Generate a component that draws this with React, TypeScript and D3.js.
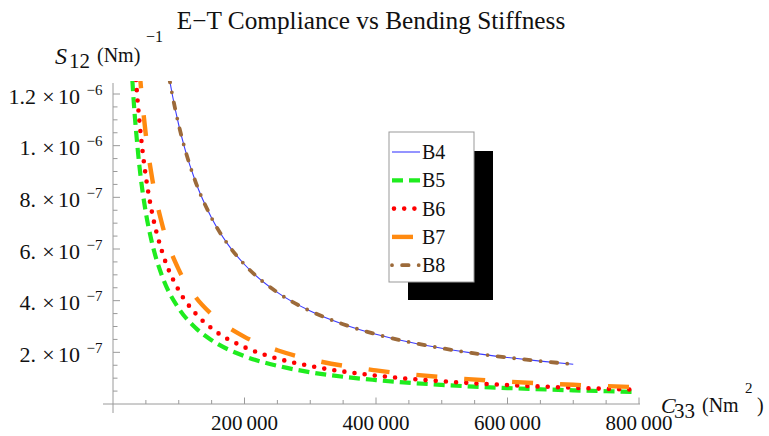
import React from "react";
import * as d3 from "d3";

// ---- data ----
const c33B4 = [85000, 90000, 100000, 110000, 125000, 150000, 175000, 200000, 250000, 300000, 350000, 400000, 450000, 500000, 550000, 600000, 650000, 700000];
const s12B4 = [1.27e-6, 1.2e-6, 1.08e-6, 9.82e-7, 8.64e-7, 7.2e-7, 6.17e-7, 5.4e-7, 4.32e-7, 3.6e-7, 3.09e-7, 2.7e-7, 2.4e-7, 2.16e-7, 1.96e-7, 1.8e-7, 1.66e-7, 1.54e-7];
const c33B8 = [85000, 90000, 100000, 110000, 125000, 150000, 175000, 200000, 250000, 300000, 350000, 400000, 450000, 500000, 550000, 600000, 650000, 700000];
const s12B8 = [1.27e-6, 1.2e-6, 1.08e-6, 9.82e-7, 8.64e-7, 7.2e-7, 6.17e-7, 5.4e-7, 4.32e-7, 3.6e-7, 3.09e-7, 2.7e-7, 2.4e-7, 2.16e-7, 1.96e-7, 1.8e-7, 1.66e-7, 1.54e-7];
const c33Low = [28000, 30000, 33000, 36000, 40000, 45000, 50000, 60000, 75000, 100000, 125000, 150000, 200000, 250000, 300000, 400000, 500000, 600000, 700000, 790000];
const s12B5 = [1.32e-6, 1.23e-6, 1.12e-6, 1.03e-6, 9.25e-7, 8.22e-7, 7.4e-7, 6.17e-7, 4.93e-7, 3.7e-7, 2.96e-7, 2.47e-7, 1.85e-7, 1.48e-7, 1.23e-7, 9.25e-8, 7.4e-8, 6.17e-8, 5.29e-8, 4.68e-8];
const s12B6 = [1.57e-6, 1.47e-6, 1.33e-6, 1.22e-6, 1.1e-6, 9.78e-7, 8.8e-7, 7.33e-7, 5.87e-7, 4.4e-7, 3.52e-7, 2.93e-7, 2.2e-7, 1.76e-7, 1.47e-7, 1.1e-7, 8.8e-8, 7.33e-8, 6.29e-8, 5.57e-8];
const s12B7 = [1.86e-6, 1.73e-6, 1.58e-6, 1.44e-6, 1.3e-6, 1.16e-6, 1.04e-6, 8.67e-7, 6.93e-7, 5.2e-7, 4.16e-7, 3.47e-7, 2.6e-7, 2.08e-7, 1.73e-7, 1.3e-7, 1.04e-7, 8.67e-8, 7.43e-8, 6.58e-8];

const seriesNames = ["B4", "B5", "B6", "B7", "B8"];
const xMajorTicks = [200000, 400000, 600000, 800000];
const xTickLabels = ["200\u2009000", "400\u2009000", "600\u2009000", "800\u2009000"];
const yMajorTicks = [2e-7, 4e-7, 6e-7, 8e-7, 1e-6, 1.2e-6];
const yMantissas = ["2.", "4.", "6.", "8.", "1.", "1.2"];
const yExponents = ["\u22127", "\u22127", "\u22127", "\u22127", "\u22126", "\u22126"];

const styles: Record<string, any> = {
  B4: { stroke: "#3c3cff", width: 1.1, dash: null, cap: "butt" },
  B5: { stroke: "#1fec1f", width: 4.2, dash: "11 6", cap: "butt" },
  B6: { stroke: "#ff0000", width: 4.6, dash: "0 10.2", cap: "round" },
  B7: { stroke: "#ff8a10", width: 4.4, dash: "21 27", cap: "butt" },
  B8: { stroke: "#9c6a3a", width: 3.8, dash: "6.5 10.1 0 10.1", cap: "round" },
};

export default function App() {
  const x = d3.scaleLinear().domain([0, 800000]).range([113, 639]);
  const y = d3.scaleLinear().domain([0, 1.2e-6]).range([404, 94]);
  const line = d3
    .line<[number, number]>()
    .x((d) => x(d[0]))
    .y((d) => y(d[1]))
    .curve(d3.curveMonotoneX);

  const zip = (a: number[], b: number[]) => a.map((v, i) => [v, b[i]] as [number, number]);
  const data: Record<string, [number, number][]> = {
    B4: zip(c33B4, s12B4),
    B5: zip(c33Low, s12B5),
    B6: zip(c33Low, s12B6),
    B7: zip(c33Low, s12B7),
    B8: zip(c33B8, s12B8),
  };
  const drawOrder = ["B5", "B6", "B7", "B4", "B8"];

  const xMinor = d3.range(50000, 800001, 50000).filter((v) => !xMajorTicks.includes(v));
  const yMinor = d3.range(1, 25).map((i) => i * 5e-8).filter((v) => !yMajorTicks.some((m) => Math.abs(m - v) < 1e-12));

  const axisColor = "#9a9a9a";
  const font = "'Liberation Serif', 'Times New Roman', serif";
  const legendY0 = 152;
  const legendStep = 28.3;

  return (
    <svg width={769} height={436} style={{ position: "absolute", left: 0, top: 0, background: "#fff" }} fontFamily={font}>
      <defs>
        <clipPath id="plotclip">
          <rect x={100} y={y(1.25e-6)} width={560} height={340} />
        </clipPath>
      </defs>
      {/* title */}
      <text x={371} y={29} textAnchor="middle" fontSize={25.3} fill="#111">
        E{"\u2212"}T Compliance vs Bending Stiffness
      </text>

      {/* axes */}
      <line x1={103} x2={640} y1={y(0)} y2={y(0)} stroke={axisColor} strokeWidth={1} />
      <line x1={x(0)} x2={x(0)} y1={413} y2={83} stroke={axisColor} strokeWidth={1} />
      {xMajorTicks.map((v) => (
        <line key={"xM" + v} x1={x(v)} x2={x(v)} y1={y(0)} y2={y(0) - 6.5} stroke={axisColor} />
      ))}
      {xMinor.map((v) => (
        <line key={"xm" + v} x1={x(v)} x2={x(v)} y1={y(0)} y2={y(0) - 4} stroke={axisColor} />
      ))}
      {yMajorTicks.map((v) => (
        <line key={"yM" + v} x1={x(0)} x2={x(0) + 7} y1={y(v)} y2={y(v)} stroke={axisColor} />
      ))}
      {yMinor.map((v) => (
        <line key={"ym" + v} x1={x(0)} x2={x(0) + 4.5} y1={y(v)} y2={y(v)} stroke={axisColor} />
      ))}

      {/* x tick labels */}
      {xMajorTicks.map((v, i) => (
        <text key={"xl" + v} x={x(v)} y={430} textAnchor="middle" fontSize={21} fill="#111">
          {xTickLabels[i]}
        </text>
      ))}
      {/* y tick labels */}
      {yMajorTicks.map((v, i) => {
        const ty = y(v);
        return (
          <g key={"yl" + v} fill="#111">
            <text x={36} y={ty + 9.5} textAnchor="end" fontSize={22}>{yMantissas[i]}</text>
            <text x={48.5} y={ty + 9.5} textAnchor="middle" fontSize={22}>{"\u00d7"}</text>
            <text x={58} y={ty + 9.5} fontSize={22}>10</text>
            <text x={86.5} y={ty + 0.5} fontSize={15}>{yExponents[i]}</text>
          </g>
        );
      })}

      {/* axis labels */}
      <g fill="#111">
        <text x={55} y={64} fontSize={24} fontStyle="italic">S</text>
        <text x={69} y={68} fontSize={21}>12</text>
        <text x={97} y={62} fontSize={20}>(Nm)</text>
        <text x={146} y={42} fontSize={16}>{"\u2212"}1</text>

        <text x={661} y={413} fontSize={22} fontStyle="italic">C</text>
        <text x={674} y={418} fontSize={21}>33</text>
        <text x={702} y={412} fontSize={20}>(Nm</text>
        <text x={745} y={393} fontSize={15}>2</text>
        <text x={757} y={412} fontSize={20}>)</text>
      </g>

      {/* curves */}
      <g clipPath="url(#plotclip)" fill="none">
        {drawOrder.map((name) => {
          const s = styles[name];
          return (
            <path
              key={name}
              d={line(data[name]) || ""}
              stroke={s.stroke}
              strokeWidth={s.width}
              strokeDasharray={s.dash || undefined}
              strokeLinecap={s.cap}
            />
          );
        })}
      </g>

      {/* legend */}
      <rect x={408} y={151} width={85} height={149} fill="#000" />
      <rect x={389} y={132} width={85} height={150} fill="#fff" stroke="#999" strokeWidth={1} />
      {seriesNames.map((name, i) => {
        const s = styles[name];
        const ly = legendY0 + i * legendStep;
        const offset = name === "B8" ? 16.6 : name === "B6" ? -2 : 0;
        return (
          <g key={"lg" + name}>
            <line
              x1={392}
              x2={name === "B7" ? 414 : 420}
              y1={ly}
              y2={ly}
              stroke={s.stroke}
              strokeWidth={s.width}
              strokeDasharray={s.dash || undefined}
              strokeDashoffset={offset}
              strokeLinecap={s.cap}
            />
            <text x={422} y={ly + 7} fontSize={20} fill="#111">{name}</text>
          </g>
        );
      })}
    </svg>
  );
}
